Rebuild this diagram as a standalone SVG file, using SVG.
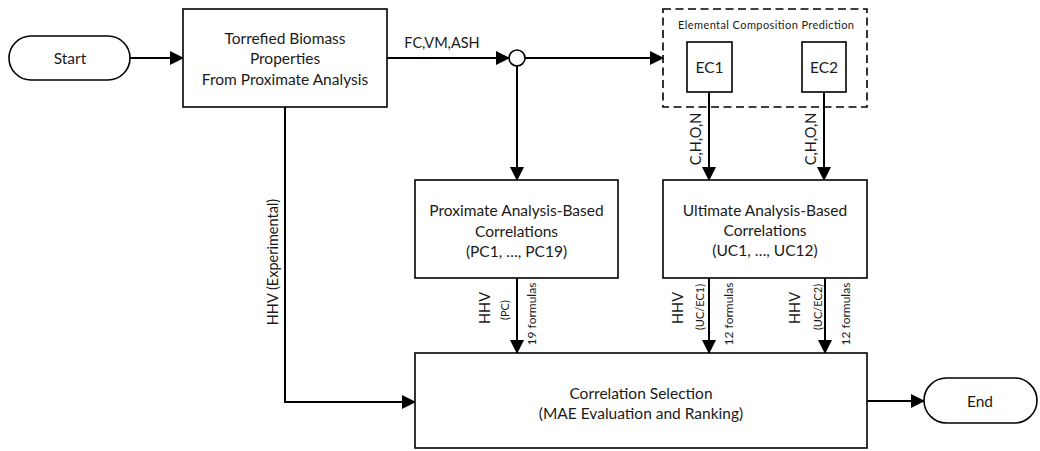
<svg xmlns="http://www.w3.org/2000/svg" width="1040" height="451" viewBox="0 0 1040 451">
  <style>
    .box { fill: #ffffff; stroke: #000000; stroke-width: 1.6; }
    .dash { fill: none; stroke: #000000; stroke-width: 1.6; stroke-dasharray: 8 4.5; }
    .wire { fill: none; stroke: #000000; stroke-width: 2; }
    .t { font-family: Lato, "Liberation Sans", sans-serif; fill: #1a1a1a; text-anchor: middle; dominant-baseline: central; }
    .b { font-size: 15.5px; }
    .m { font-size: 14.5px; }
    .s { font-size: 11px; }
    .f { font-size: 12px; }
    .xs { font-size: 11px; }
  </style>
  <defs>
    <marker id="arrow" markerWidth="14" markerHeight="14" refX="13" refY="7" orient="auto" markerUnits="userSpaceOnUse">
      <path d="M0,0 L14,7 L0,14 Z" fill="#000000"/>
    </marker>
  </defs>

  <!-- connectors -->
  <g id="connectors">
    <path class="wire" d="M130,58 L183,58" marker-end="url(#arrow)"/>
    <path class="wire" d="M387,58 L509,58" marker-end="url(#arrow)"/>
    <path class="wire" d="M525,58 L663,58" marker-end="url(#arrow)"/>
    <path class="wire" d="M517,66 L517,180" marker-end="url(#arrow)"/>
    <path class="wire" d="M709,92 L709,180" marker-end="url(#arrow)"/>
    <path class="wire" d="M824,92 L824,180" marker-end="url(#arrow)"/>
    <path class="wire" d="M285,107 L285,402 L415,402" marker-end="url(#arrow)"/>
    <path class="wire" d="M517,278 L517,353" marker-end="url(#arrow)"/>
    <path class="wire" d="M709,278 L709,353" marker-end="url(#arrow)"/>
    <path class="wire" d="M825,278 L825,353" marker-end="url(#arrow)"/>
    <path class="wire" d="M867,401 L924,401" marker-end="url(#arrow)"/>

    <text class="t m" x="442" y="42">FC,VM,ASH</text>
    <text class="t m" transform="rotate(-90 695 139)" x="695" y="139">C,H,O,N</text>
    <text class="t m" transform="rotate(-90 810 139)" x="810" y="139">C,H,O,N</text>
    <text class="t m" transform="rotate(-90 272 262)" x="272" y="262">HHV (Experimental)</text>

    <text class="t m" transform="rotate(-90 484 308)" x="484" y="308">HHV</text>
    <text class="t xs" transform="rotate(-90 504 310)" x="504" y="310">(PC)</text>
    <text class="t f" transform="rotate(-90 531 314)" x="531" y="314">19 formulas</text>

    <text class="t m" transform="rotate(-90 677 308)" x="677" y="308">HHV</text>
    <text class="t xs" transform="rotate(-90 699 307)" x="699" y="307">(UC/EC1)</text>
    <text class="t f" transform="rotate(-90 728 314)" x="728" y="314">12 formulas</text>

    <text class="t m" transform="rotate(-90 794 308)" x="794" y="308">HHV</text>
    <text class="t xs" transform="rotate(-90 817 307)" x="817" y="307">(UC/EC2)</text>
    <text class="t f" transform="rotate(-90 845 314)" x="845" y="314">12 formulas</text>
  </g>

  <g id="start">
    <rect class="box" x="9" y="36" width="121" height="44" rx="22" ry="22"/>
    <text class="t b" x="70" y="58">Start</text>
  </g>

  <g id="torrefied-biomass">
    <rect class="box" x="183" y="9" width="204" height="98"/>
    <text class="t b" x="285" y="38">Torrefied Biomass</text>
    <text class="t b" x="285" y="58">Properties</text>
    <text class="t b" x="285" y="79">From Proximate Analysis</text>
  </g>

  <g id="junction">
    <circle cx="517" cy="58" r="8" fill="#ffffff" stroke="#000000" stroke-width="1.6"/>
  </g>

  <g id="elemental-composition">
    <rect class="dash" x="663" y="9" width="204" height="98"/>
    <text class="t s" x="766" y="24" textLength="176" lengthAdjust="spacing">Elemental Composition Prediction</text>
  </g>

  <g id="ec1">
    <rect class="box" x="687" y="42" width="45" height="50"/>
    <text class="t b" x="709.5" y="67">EC1</text>
  </g>

  <g id="ec2">
    <rect class="box" x="802" y="42" width="44" height="50"/>
    <text class="t b" x="824" y="67">EC2</text>
  </g>

  <g id="proximate-correlations">
    <rect class="box" x="415" y="180" width="203" height="98"/>
    <text class="t b" x="516.5" y="210">Proximate Analysis-Based</text>
    <text class="t b" x="516.5" y="231">Correlations</text>
    <text class="t b" x="516.5" y="251">(PC1, …, PC19)</text>
  </g>

  <g id="ultimate-correlations">
    <rect class="box" x="663" y="180" width="204" height="98"/>
    <text class="t b" x="765" y="210">Ultimate Analysis-Based</text>
    <text class="t b" x="765" y="230">Correlations</text>
    <text class="t b" x="765" y="250">(UC1, …, UC12)</text>
  </g>

  <g id="correlation-selection">
    <rect class="box" x="415" y="353" width="452" height="95"/>
    <text class="t b" x="641" y="393">Correlation Selection</text>
    <text class="t b" x="641" y="413">(MAE Evaluation and Ranking)</text>
  </g>

  <g id="end">
    <rect class="box" x="924" y="378" width="113" height="45" rx="22.5" ry="22.5"/>
    <text class="t b" x="980" y="401">End</text>
  </g>
</svg>
